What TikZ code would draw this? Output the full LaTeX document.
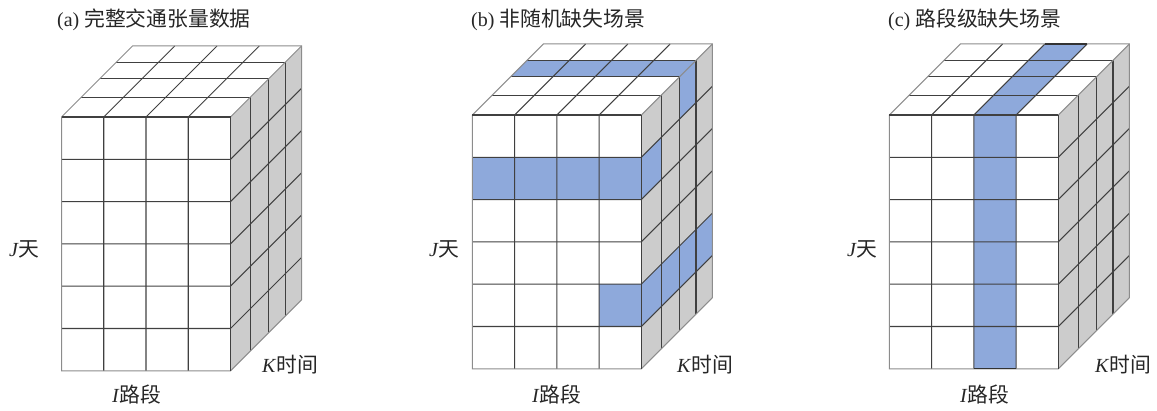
\documentclass[tikz,border=0pt]{standalone}
\usepackage{fontspec}
\setmainfont{Liberation Serif}
\newfontfamily\cjk[Scale=1.04]{Noto Sans CJK SC}
\definecolor{blue1}{HTML}{8EA9DB}
\definecolor{side}{HTML}{CCCCCC}
\definecolor{inkc}{HTML}{262626}
\tikzset{
  x=1pt,y=1pt,
  inner/.style={draw=black!75,line width=1.05pt},
  outer/.style={draw=black!45,line width=1pt},
  missline/.style={draw=black!80,line width=1.1pt},
  lab/.style={inner sep=0pt,anchor=base west,text=inkc,font=\fontsize{20}{23}\selectfont},
}
% front (i,j), top (i,d), right (d,j) face points, in local coordinates
\newcommand{\F}[2]{({(#1)*42.25},{(#2)*42.3})}
\newcommand{\T}[2]{({(#1)*42.25+(#2)*71},{-(#2)*71})}
\newcommand{\R}[2]{({169+(#1)*71},{(#2)*42.3-(#1)*71})}
\newcommand{\cubegrid}{%
  \fill[side] \R{0}{0} -- \R{1}{0} -- \R{1}{6} -- \R{0}{6} -- cycle;
}
\newcommand{\cubelines}{%
  \foreach \j in {1,...,5} \draw[inner] \F{0}{\j} -- \F{4}{\j} -- \R{1}{\j};
  \foreach \i in {1,2,3} \draw[inner] \T{\i}{1} -- \T{\i}{0} -- \F{\i}{6};
  \foreach \d in {.28,.54,.77} {
    \draw[inner] \T{0}{\d} -- \T{4}{\d} -- \R{\d}{6};
  }
  \draw[outer] \F{0}{0} -- \F{0}{6} -- \F{4}{6} -- \R{1}{6};
  \draw[outer] \F{0}{0} -- \T{0}{1} -- \T{4}{1} -- \R{1}{6};
  \draw[outer] \T{4}{0} -- \T{4}{1};
  \draw[inner] \F{0}{0} -- \F{4}{0};
  \draw[inner] \F{4}{0} -- \F{4}{6};
}
\begin{document}
\begin{tikzpicture}
\useasboundingbox (0,0) rectangle (1157,-411);

% (a)
\begin{scope}[shift={(61.5,-117)},yscale=-1]
  \cubegrid
  \cubelines
\end{scope}

% (b)
\begin{scope}[shift={(472.3,-115)},yscale=-1]
  \cubegrid
  \fill[blue1] \F{0}{1} -- \F{4}{1} -- \R{.28}{1} -- \R{.28}{2} -- \F{4}{2} -- \F{0}{2} -- cycle;
  \fill[blue1] \F{3}{4} -- \F{4}{4} -- \R{1}{4} -- \R{1}{5} -- \F{4}{5} -- \F{3}{5} -- cycle;
  \fill[blue1] \T{0}{.54} -- \T{4}{.54} -- \T{4}{.77} -- \T{0}{.77} -- cycle;
  \fill[blue1] \T{4}{.54} -- \T{4}{.77} -- \R{.77}{1} -- \R{.54}{1} -- cycle;
  \cubelines
\end{scope}

% (c)
\begin{scope}[shift={(889.3,-115)},yscale=-1]
  \cubegrid
  \fill[blue1] \F{2}{0} -- \F{3}{0} -- \T{3}{1} -- \T{2}{1} -- cycle;
  \fill[blue1] \F{2}{0} rectangle \F{3}{6};
  \cubelines
  \draw[missline] \T{3}{1} -- \T{2}{1};
  \draw[missline] \F{2}{6} -- \F{3}{6};
\end{scope}

% labels
\node[lab] (ta) at (57,-26.5) {(a) {\cjk 完整交通张量数据}};
\node[lab] (tb) at (471,-26.5) {(b) {\cjk 非随机缺失场景}};
\node[lab] (tc) at (888,-26.5) {(c) {\cjk 路段级缺失场景}};

\node[lab] (ja) at (9,-257) {\textit{J}{\cjk 天}};
\node[lab] (jb) at (429,-257) {\textit{J}{\cjk 天}};
\node[lab] (jc) at (847,-257) {\textit{J}{\cjk 天}};

\node[lab] (ia) at (112,-403) {\textit{I}{\cjk 路段}};
\node[lab] (ib) at (532,-403) {\textit{I}{\cjk 路段}};
\node[lab] (ic) at (960,-403) {\textit{I}{\cjk 路段}};

\node[lab] (ka) at (262,-373) {\textit{K}{\cjk 时间}};
\node[lab] (kb) at (677,-373) {\textit{K}{\cjk 时间}};
\node[lab] (kc) at (1095,-373) {\textit{K}{\cjk 时间}};
\end{tikzpicture}
\end{document}
